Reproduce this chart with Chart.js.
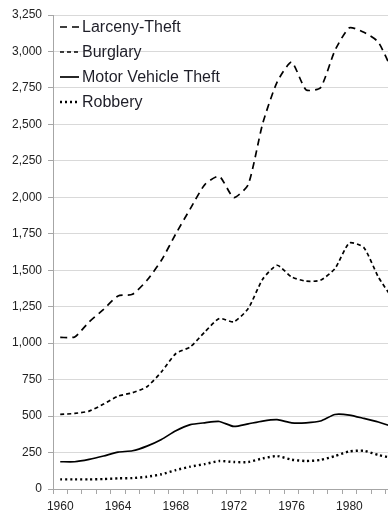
<!DOCTYPE html>
<html>
<head>
<meta charset="utf-8">
<script src="https://cdn.jsdelivr.net/npm/chart.js@4"></script>
<style>
  body { margin: 0; background: #fff; overflow: hidden; }
  #wrap { width: 400px; height: 521px; }
</style>
</head>
<body>
<div id="wrap"><canvas id="grafico"></canvas></div>
<script>
var anos = [1960, 1961, 1962, 1963, 1964, 1965, 1966, 1967, 1968, 1969, 1970, 1971,
  1972, 1973, 1974, 1975, 1976, 1977, 1978, 1979, 1980, 1981, 1982, 1983];

var larceny = [1039, 1043, 1146, 1232, 1324, 1335, 1431, 1568, 1751, 1922, 2087, 2144,
  1998, 2087, 2505, 2790, 2927, 2737, 2751, 3007, 3162, 3132, 3064, 2860];
var burglary = [511, 518, 534, 582, 637, 660, 701, 803, 929, 975, 1077, 1169,
  1146, 1237, 1438, 1534, 1454, 1425, 1431, 1511, 1687, 1655, 1454, 1303];
var motorVehicle = [187, 187, 203, 226, 253, 262, 294, 340, 399, 441, 454, 463,
  429, 447, 466, 475, 454, 454, 466, 511, 507, 484, 459, 428];
var robbery = [66, 66, 66, 68, 73, 75, 84, 101, 130, 153, 171, 192,
  185, 185, 210, 226, 201, 192, 199, 226, 258, 262, 233, 212];

var nomes = ["Larceny-Theft", "Burglary", "Motor Vehicle Theft", "Robbery"];

// legenda desenhada dentro da area do grafico, como no original
const legendaInterna = {
  id: "legendaInterna",
  afterDraw(chart) {
    const ctx = chart.ctx;
    const yLinhas = [27, 52, 77, 102];
    ctx.save();
    chart.data.datasets.forEach(function (ds, i) {
      var y = yLinhas[i];
      ctx.beginPath();
      ctx.setLineDash(ds.borderDash || []);
      ctx.lineWidth = ds.borderWidth;
      ctx.strokeStyle = ds.borderColor;
      ctx.moveTo(60, y);
      ctx.lineTo(79, y);
      ctx.stroke();
      ctx.setLineDash([]);
      ctx.fillStyle = "#1e1e28";
      ctx.font = "16px 'Liberation Sans'";
      ctx.textBaseline = "middle";
      ctx.fillText(ds.label, 82, y + 1);
    });
    ctx.restore();
  },
};

const ctxGrafico = document.getElementById("grafico");

new Chart(ctxGrafico, {
  type: "line",
  data: {
    labels: anos,
    datasets: [
      {
        label: nomes[0],
        data: larceny,
        borderColor: "#000",
        borderWidth: 1.7,
        borderDash: [7, 5],
      },
      {
        label: nomes[1],
        data: burglary,
        borderColor: "#000",
        borderWidth: 1.7,
        borderDash: [4, 3],
      },
      {
        label: nomes[2],
        data: motorVehicle,
        borderColor: "#000",
        borderWidth: 1.7,
      },
      {
        label: nomes[3],
        data: robbery,
        borderColor: "#000",
        borderWidth: 2.4,
        borderDash: [2, 3],
      },
    ],
  },
  options: {
    responsive: true,
    maintainAspectRatio: false,
    animation: false,
    elements: {
      point: { radius: 0 },
      line: { tension: 0.2 },
    },
    layout: { padding: { top: 15, left: 0, right: 0, bottom: 0 } },
    plugins: {
      legend: { display: false },
      tooltip: { enabled: false },
    },
    scales: {
      x: {
        offset: true,
        grid: {
          offset: true,
          drawOnChartArea: false,
          drawTicks: true,
          tickLength: 5,
          tickColor: "#a6a6a6",
        },
        border: { color: "#a6a6a6" },
        ticks: {
          autoSkip: false,
          maxRotation: 0,
          color: "#222",
          font: { family: "'Liberation Sans'", size: 12 },
          padding: 5,
          callback: function (valor, i) {
            return anos[i] % 4 == 0 ? anos[i] : "";
          },
        },
        afterFit: function (escala) {
          escala.height = 32;
        },
      },
      y: {
        min: 0,
        max: 3250,
        grid: {
          color: "#d9d9d9",
          tickColor: "#a6a6a6",
          tickLength: 5,
        },
        border: { color: "#a6a6a6" },
        ticks: {
          stepSize: 250,
          color: "#222",
          padding: 6,
          font: { family: "'Liberation Sans'", size: 12 },
          callback: function (valor) {
            return valor.toLocaleString("en-US");
          },
        },
        afterFit: function (escala) {
          escala.width = 53;
        },
      },
    },
  },
  plugins: [legendaInterna],
});
</script>
</body>
</html>
